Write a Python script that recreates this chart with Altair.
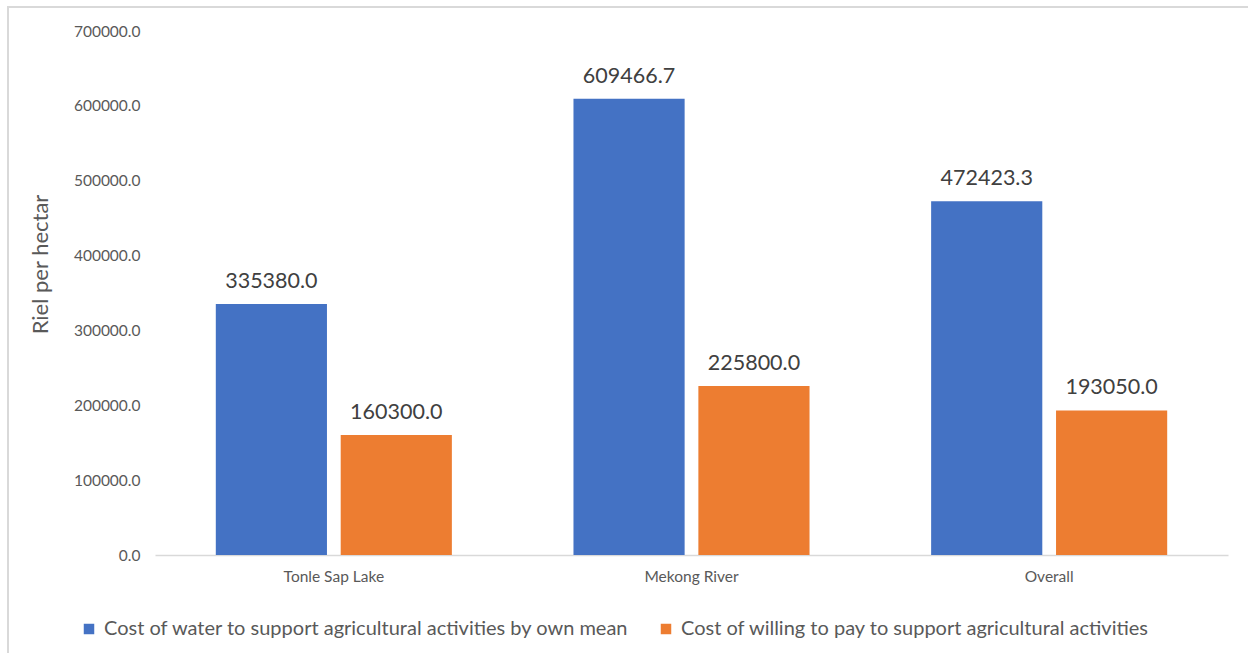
import altair as alt
import pandas as pd

categories = ["Tonle Sap Lake", "Mekong River", "Overall"]
series_names = [
    "Cost of water to support agricultural activities by own mean",
    "Cost of willing to pay to support agricultural activities",
]
own_mean = [335380.0, 609466.7, 472423.3]
willing_to_pay = [160300.0, 225800.0, 193050.0]
colors = ["#4472C4", "#ED7D31"]

rows = []
for i, c in enumerate(categories):
    rows.append({"cat": c, "series": series_names[0], "value": own_mean[i], "order": 0})
    rows.append({"cat": c, "series": series_names[1], "value": willing_to_pay[i], "order": 1})
df = pd.DataFrame(rows)

FONT = "Lato"
W, H = 1073, 524

x_enc = alt.X("cat:N", sort=categories, title=None,
              scale=alt.Scale(paddingInner=0.34, paddingOuter=0.17),
              axis=alt.Axis(labelAngle=0, labelFontSize=15.5, labelColor="#595959",
                            labelFont=FONT, labelPadding=14, ticks=False,
                            domainColor="#d9d9d9", domainWidth=1.5))
xoff = alt.XOffset("series:N", sort=series_names,
                   scale=alt.Scale(paddingInner=0.11))

bars = alt.Chart(df).mark_bar().encode(
    x=x_enc,
    xOffset=xoff,
    y=alt.Y("value:Q", title="Riel per hectar",
            scale=alt.Scale(domain=[0, 700000]),
            axis=alt.Axis(values=[0, 100000, 200000, 300000, 400000, 500000, 600000, 700000],
                          format=".1f", grid=False, ticks=False, domain=False,
                          labelFontSize=15.5, labelColor="#595959", labelFont=FONT,
                          labelPadding=15, titleFontSize=22, titleFont=FONT,
                          titleFontWeight="normal", titleColor="#595959",
                          titleX=-115, titleY=233, titleAngle=270,
                          titleAlign="center", titleBaseline="middle")),
    color=alt.Color("series:N", sort=series_names,
                    scale=alt.Scale(domain=series_names, range=colors),
                    legend=alt.Legend(title=None, orient="none", direction="horizontal",
                                      legendX=-76, legendY=588, symbolType="square",
                                      symbolSize=110, symbolStrokeWidth=0,
                                      labelFontSize=20, labelFont=FONT,
                                      labelColor="#595959", columnPadding=26,
                                      labelOffset=5, labelLimit=800)),
)

labels = alt.Chart(df).mark_text(baseline="bottom", dy=-11, fontSize=21.5,
                                 font=FONT, color="#404040").encode(
    x=alt.X("cat:N", sort=categories),
    xOffset=xoff,
    y="value:Q",
    text=alt.Text("value:Q", format=".1f"),
)

border = alt.Chart(pd.DataFrame({"a": [0]})).mark_rect(
    fill=None, stroke="#d9d9d9", strokeWidth=2, clip=False
).encode(x=alt.value(-147), x2=alt.value(1110), y=alt.value(-24), y2=alt.value(640))

chart = alt.layer(border, bars, labels).properties(
    width=W, height=H,
    autosize=alt.AutoSizeParams(type="none"),
    padding={"left": 155, "top": 31, "right": 20, "bottom": 98},
).configure_view(stroke=None)

chart.save("out.html", embed_options={"renderer": "svg", "actions": False})
